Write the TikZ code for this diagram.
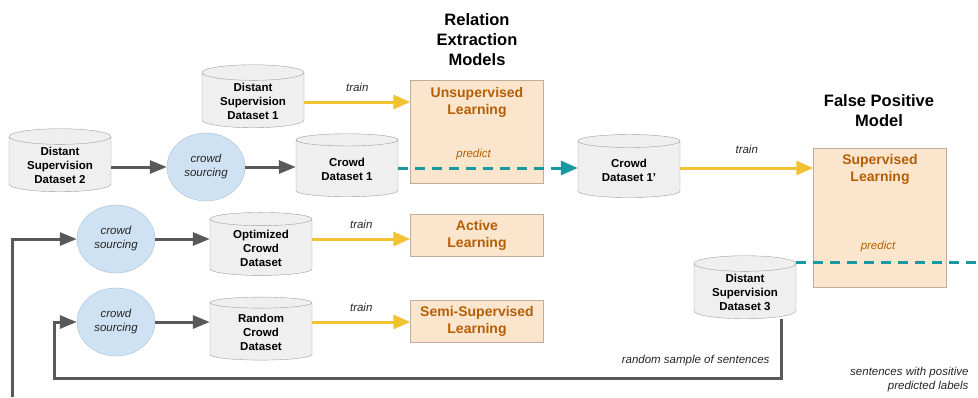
\documentclass[tikz,border=0pt]{standalone}
\usepackage{fontspec}
\setmainfont{Liberation Sans}
\usepackage{xcolor}
\usepackage{tikz}
\usetikzlibrary{arrows.meta,positioning,shapes.geometric}

\definecolor{cylfill}{HTML}{EFEFEF}
\definecolor{cylline}{HTML}{9E9E9E}
\definecolor{crowdfill}{HTML}{CFE2F3}
\definecolor{crowdline}{HTML}{A7BFD6}
\definecolor{modelfill}{HTML}{FCE5CD}
\definecolor{modelline}{HTML}{BFAE9E}
\definecolor{modeltext}{HTML}{B45F06}
\definecolor{flowgray}{HTML}{595959}
\definecolor{trainyellow}{HTML}{F1C232}
\definecolor{predictteal}{HTML}{1898A0}

\begin{document}
\begin{tikzpicture}[
  x=1pt, y=-1pt,
  db/.style={cylinder, shape border rotate=90, aspect=0.23, draw=cylline, fill=cylfill,
    minimum width=102pt, minimum height=63pt, align=center, inner sep=1pt,
    font=\fontsize{11.5}{14}\selectfont\bfseries},
  crowd/.style={ellipse, draw=crowdline, fill=crowdfill, minimum width=78pt, minimum height=68pt,
    align=center, font=\fontsize{11.5}{14}\selectfont\itshape, text=black!85},
  model/.style={draw=modelline, fill=modelfill, minimum width=133pt, align=center, inner sep=2pt,
    font=\fontsize{14}{17}\selectfont\bfseries, text=modeltext},
  title/.style={align=center, font=\fontsize{16.5}{20}\selectfont\bfseries},
  note/.style={font=\fontsize{11.5}{14}\selectfont\itshape, text=black!85},
  arrow/.style={-{Triangle[length=17pt, width=13pt]}, line width=3pt, draw=flowgray},
  trainarrow/.style={-{Triangle[length=17pt, width=14pt]}, line width=3pt, draw=trainyellow},
  predictarrow/.style={-{Triangle[length=17pt, width=14pt]}, line width=3pt, draw=predictteal,
    dash pattern=on 10pt off 7pt}]
\useasboundingbox (0,0) rectangle (978,397);

% relation extraction models
\node[title] (retitle) at (477,40) {Relation\\Extraction\\Models};
\node[model, minimum height=103pt,
  label={[model, draw=none, fill=none, anchor=north, yshift=-5pt]north:Unsupervised\\Learning}]
  (unsup) at (477,132) {};
\node[model, minimum height=42pt] (active) at (477,235) {Active\\Learning};
\node[model, minimum height=42pt] (semi) at (477,321) {Semi-Supervised\\Learning};

% false positive model
\node[title] (fptitle) at (879,111) {False Positive\\Model};
\node[model, minimum height=139pt,
  label={[model, draw=none, fill=none, anchor=north, yshift=-4pt]north:Supervised\\Learning}]
  (superv) at (880,218) {};

% datasets
\node[db] (ds1) at (253,101) {Distant\\Supervision\\Dataset 1};
\node[db] (ds2) at (60,165) {Distant\\Supervision\\Dataset 2};
\node[db] (cd1) at (347,169) {Crowd\\Dataset 1};
\node[db] (cd1p) at (629,170) {Crowd\\Dataset 1'};
\node[db] (optcd) at (261,248) {Optimized\\Crowd\\Dataset};
\node[db] (randcd) at (261,332) {Random\\Crowd\\Dataset};
\node[db] (ds3) at (745,292) {Distant\\Supervision\\Dataset 3};

% crowd sourcing
\node[crowd] (crowd1) at (206,167) {crowd\\sourcing};
\node[crowd] (crowd2) at (116,239) {crowd\\sourcing};
\node[crowd] (crowd3) at (116,322) {crowd\\sourcing};

% free ends
\coordinate (loopstart) at (12,397);
\coordinate (loopcorner) at (781,378);
\coordinate (loopleft) at (54,378);
\coordinate (fpout) at (978,262);

\draw[trainarrow] (ds1.east |- 0,102) -- node[note, above=6pt] {train} (unsup.west |- 0,102);
\draw[arrow] (ds2.east |- crowd1) -- (crowd1);
\draw[arrow] (crowd1) -- (cd1.west |- crowd1);
\draw[predictarrow] (cd1.east |- 0,168) -- node[note, pos=0.42, above=3pt, text=modeltext] {predict} (cd1p.west |- 0,168);
\draw[trainarrow] (cd1p.east |- 0,168) -- node[note, above=10pt] {train} (superv.west |- 0,168);
\draw[arrow] (crowd2) -- (optcd.west |- crowd2);
\draw[arrow] (crowd3) -- (randcd.west |- crowd3);
\draw[trainarrow] (optcd.east |- crowd2) -- node[note, above=6pt] {train} (active.west |- crowd2);
\draw[trainarrow] (randcd.east |- crowd3) -- node[note, above=6pt] {train} (semi.west |- crowd3);
\draw[arrow] (loopstart) |- (crowd2.west);
\draw[arrow] (ds3.south -| loopcorner) -- (loopcorner) -- (loopleft) |- (crowd3.west);
\draw[predictarrow, -] (ds3.east |- fpout) -- node[note, pos=0.45, above=5pt, text=modeltext] {predict} (fpout);

\node[note, anchor=south east] (samplenote) at (773,369) {random sample of sentences};
\node[note, align=right, anchor=north east] (posnote) at (972,364) {sentences with positive\\predicted labels};
\end{tikzpicture}
\end{document}
